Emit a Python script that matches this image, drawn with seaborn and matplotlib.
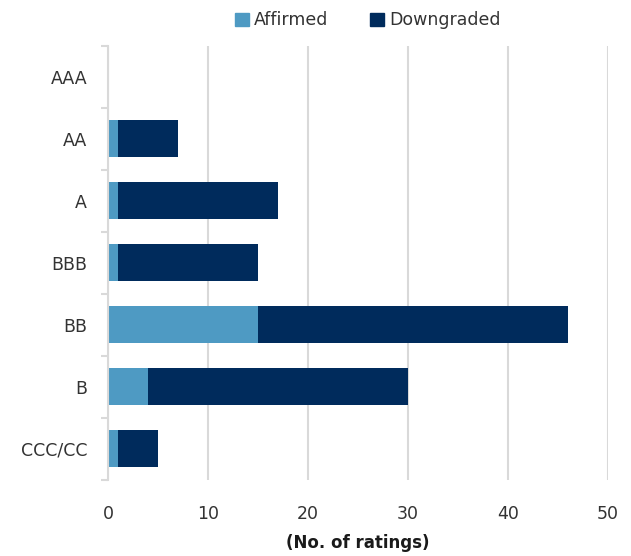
import numpy as np
import pandas as pd
import matplotlib
matplotlib.use("Agg")
import matplotlib.pyplot as plt
from matplotlib.patches import Patch
import seaborn as sns

# ============================================================================
# Data
# ============================================================================

ratings = ["AAA", "AA", "A", "BBB", "BB", "B", "CCC/CC"]
affirmed = [0, 1, 1, 1, 15, 4, 1]
downgraded = [0, 6, 16, 14, 31, 26, 4]

light_blue = "#4e9ac3"
navy = "#002b5c"

df = pd.DataFrame({
    "Rating": ratings,
    "Affirmed": affirmed,
    "Downgraded": downgraded,
})
df["Total"] = df["Affirmed"] + df["Downgraded"]

# ============================================================================
# Plot
# ============================================================================

sns.set_theme(style="white")
plt.rcParams["font.family"] = ["DejaVu Sans"]

fig = plt.figure(figsize=(6.31, 5.56), dpi=100)
ax = fig.add_axes([0.171, 0.137, 0.7925, 0.781])

# stacked bars: totals in navy, affirmed drawn on top
sns.barplot(data=df, y="Rating", x="Total", color=navy, width=0.6,
            saturation=1, linewidth=0, ax=ax, orient="h")
sns.barplot(data=df, y="Rating", x="Affirmed", color=light_blue, width=0.6,
            saturation=1, linewidth=0, ax=ax, orient="h")

ax.set_xlim(0, 50)
ax.set_ylim(len(ratings) - 0.5, -0.5)
ax.set_xticks(range(0, 51, 10))
ax.xaxis.grid(True, color="#d9d9d9", linewidth=1.5)
ax.set_axisbelow(True)

for side in ["top", "right", "bottom"]:
    ax.spines[side].set_visible(False)
ax.spines["left"].set_color("#d9d9d9")
ax.spines["left"].set_linewidth(1.5)

ax.set_yticks(np.arange(-0.5, len(ratings), 1), minor=True)
ax.tick_params(axis="y", which="minor", left=True, length=5,
               color="#d9d9d9", width=1.5)
ax.tick_params(axis="y", which="major", left=False, labelsize=12.5,
               labelcolor="#333333", pad=9)
ax.tick_params(axis="x", bottom=False, labelsize=12.5,
               labelcolor="#333333", pad=12)

ax.set_ylabel("")
ax.set_xlabel("(No. of ratings)", fontsize=12, fontweight="bold",
              color="#1a1a1a", labelpad=8)

handles = [Patch(color=light_blue, label="Affirmed"),
           Patch(color=navy, label="Downgraded")]
fig.legend(handles=handles, loc="upper center", bbox_to_anchor=(0.583, 1.008),
           ncol=2, frameon=False, fontsize=12.5, handlelength=0.8,
           handleheight=0.8, handletextpad=0.3, columnspacing=2.4,
           labelcolor="#333333")

fig.savefig("out.png", dpi=100)
